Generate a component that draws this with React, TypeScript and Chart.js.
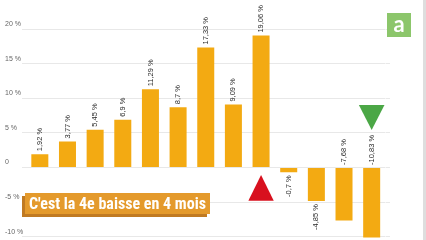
import React, { useEffect, useRef } from 'react';
import { Chart, registerables } from 'chart.js';

Chart.register(...registerables);

const categories = ['P1', 'P2', 'P3', 'P4', 'P5', 'P6', 'P7', 'P8', 'P9', 'P10', 'P11', 'P12', 'P13'];
const values = [1.92, 3.77, 5.45, 6.9, 11.29, 8.7, 17.33, 9.09, 19.06, -0.7, -4.85, -7.68, -10.83];
const valueLabels = ['1,92 %', '3,77 %', '5,45 %', '6,9 %', '11,29 %', '8,7 %', '17,33 %', '9,09 %', '19,06 %', '-0,7 %', '-4,85 %', '-7,68 %', '-10,83 %'];
const yTickValues = [-10, -5, 0, 5, 10, 15, 20];
const titleText = "C'est la 4e baisse en 4 mois";
const upMarkerIndex = 8;
const downMarkerIndex = 12;

const BAR_COLOR = '#F3AA12';
const GRID_COLOR = '#e8e8e8';
const Y_MIN = -10.12;
const Y_MAX = 24.2;

const fmtTick = (v: number) => (v === 0 ? '0' : `${v} %`);

const valueLabelPlugin = {
  id: 'valueLabels',
  afterDatasetsDraw(chart: any) {
    const ctx = chart.ctx;
    const meta = chart.getDatasetMeta(0);
    const area = chart.chartArea;
    ctx.save();
    ctx.font = '7.5px "Liberation Sans", Arial, sans-serif';
    ctx.fillStyle = '#2a2a2a';
    ctx.textBaseline = 'middle';
    meta.data.forEach((bar: any, i: number) => {
      const v = values[i];
      const txt = valueLabels[i];
      const w = ctx.measureText(txt).width;
      const { x, y, base } = bar.getProps(['x', 'y', 'base'], true);
      let anchor: number;
      let align: CanvasTextAlign;
      if (v >= 0) {
        anchor = y - 3;
        align = 'left';
      } else if (y + 3 + w <= area.bottom) {
        anchor = y + 3;
        align = 'right';
      } else {
        anchor = base - 3;
        align = 'left';
      }
      ctx.save();
      ctx.translate(x, anchor);
      ctx.rotate(-Math.PI / 2);
      ctx.textAlign = align;
      ctx.fillText(txt, 0, 0);
      ctx.restore();
    });
    ctx.restore();
  },
};

const markerPlugin = {
  id: 'markers',
  afterDraw(chart: any) {
    const ctx = chart.ctx;
    const meta = chart.getDatasetMeta(0);
    const up = meta.data[upMarkerIndex];
    const down = meta.data[downMarkerIndex];
    ctx.save();
    if (up) {
      const x = up.x;
      ctx.fillStyle = '#D8101E';
      ctx.beginPath();
      ctx.moveTo(x, 175);
      ctx.lineTo(x + 12.7, 200.7);
      ctx.lineTo(x - 12.7, 200.7);
      ctx.closePath();
      ctx.fill();
    }
    if (down) {
      const x = down.x;
      ctx.fillStyle = '#4BA746';
      ctx.beginPath();
      ctx.moveTo(x - 12.8, 105);
      ctx.lineTo(x + 12.8, 105);
      ctx.lineTo(x, 130);
      ctx.closePath();
      ctx.fill();
    }
    ctx.restore();
  },
};

const zeroPad = (s: any, width: number) => {
  s.width = width;
  s.paddingTop = 0;
  s.paddingBottom = 0;
  s.paddingLeft = 0;
  s.paddingRight = 0;
};

export default function App() {
  const canvasRef = useRef<HTMLCanvasElement | null>(null);

  useEffect(() => {
    document.body.style.margin = '0';
    const canvas = canvasRef.current;
    if (!canvas) return;
    const chart = new Chart(canvas, {
      type: 'bar',
      data: {
        labels: categories,
        datasets: [
          {
            data: values,
            backgroundColor: BAR_COLOR,
            borderWidth: 0,
            barPercentage: 0.615,
            categoryPercentage: 1,
          },
        ],
      },
      options: {
        animation: false,
        responsive: true,
        maintainAspectRatio: false,
        layout: { padding: { left: 5, right: 36, top: 0, bottom: 2.5 } },
        plugins: { legend: { display: false }, tooltip: { enabled: false } },
        scales: {
          x: { display: false },
          y: {
            min: Y_MIN,
            max: Y_MAX,
            border: { display: false },
            grid: { color: GRID_COLOR, lineWidth: 1, tickLength: 4, drawTicks: true },
            afterFit: (s: any) => zeroPad(s, 21),
            afterBuildTicks: (s: any) => { s.ticks = yTickValues.map((v) => ({ value: v })); },
            ticks: {
              includeBounds: false,
              stepSize: 5,
              crossAlign: 'far',
              labelOffset: -5,
              color: '#666',
              font: { size: 7, family: '"Liberation Sans", Arial, sans-serif' },
              callback: (v: any) => fmtTick(Number(v)),
            },
          },
          y2: {
            type: 'linear',
            position: 'right',
            min: Y_MIN,
            max: Y_MAX,
            border: { display: false },
            grid: { color: GRID_COLOR, drawOnChartArea: false, tickLength: 4.5, drawTicks: true },
            afterFit: (s: any) => zeroPad(s, 4.5),
            afterBuildTicks: (s: any) => { s.ticks = yTickValues.map((v) => ({ value: v })); },
            ticks: { display: false, includeBounds: false, stepSize: 5 },
          },
        },
      },
      plugins: [valueLabelPlugin, markerPlugin],
    } as any);
    return () => chart.destroy();
  }, []);

  return (
    <div style={{ position: 'fixed', left: 0, top: 0, width: 426, height: 240, background: '#fff', overflow: 'hidden' }}>
      <canvas ref={canvasRef} />
      <div
        style={{
          position: 'absolute',
          left: 25,
          top: 193,
          width: 185,
          height: 21,
          background: '#E49A2C',
          boxShadow: '-3px 3px 0 #C07A22',
          color: '#fff',
          fontFamily: '"Liberation Sans Narrow", "Roboto Condensed", "DejaVu Sans Condensed", sans-serif',
          fontWeight: 'bold',
          fontSize: 16,
          lineHeight: '21px',
          paddingLeft: 4,
          boxSizing: 'border-box',
          whiteSpace: 'nowrap',
        }}
      >
        {titleText}
      </div>
      <div
        style={{
          position: 'absolute',
          left: 387,
          top: 13,
          width: 24,
          height: 24,
          background: '#8CC66B',
          color: '#fff',
          fontFamily: 'Lato, Roboto, sans-serif',
          fontWeight: 'bold',
          fontSize: 22,
          lineHeight: '21px',
          textAlign: 'center',
        }}
      >
        a
      </div>
      <div style={{ position: 'absolute', right: 0, top: 0, width: 3, height: 240, background: '#dedede' }} />
    </div>
  );
}
